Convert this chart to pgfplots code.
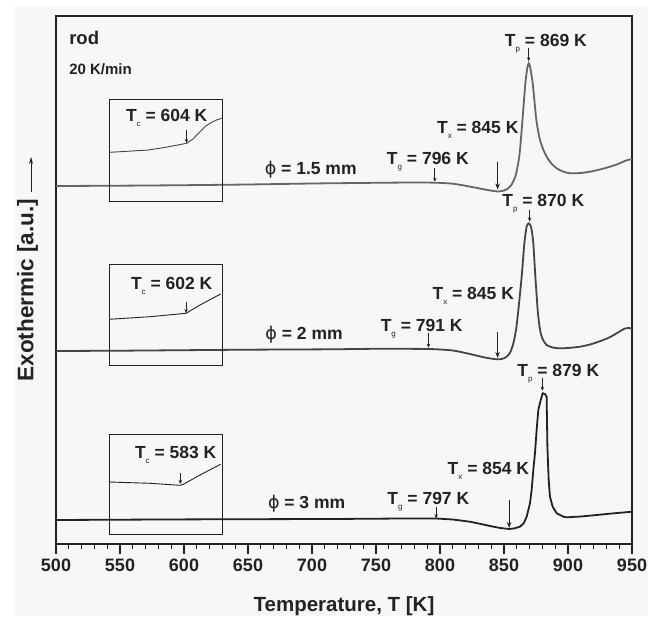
\documentclass[border=0pt]{standalone}
\usepackage{fontspec}
\setmainfont{Liberation Sans}
\newfontfamily\dejavu{DejaVu Sans}
\usepackage{pgfplots}
\pgfplotsset{compat=1.18}
\usetikzlibrary{arrows.meta}
\definecolor{bg}{HTML}{F7F7F7}
\definecolor{txt}{HTML}{222222}
\definecolor{cA}{HTML}{666666}
\definecolor{cB}{HTML}{444444}
\definecolor{cC}{HTML}{222222}
\newcommand{\sub}[1]{\raisebox{-0.55ex}{\fontsize{8}{8}\selectfont\mdseries #1}}
\newcommand{\phisym}{{\dejavu\mdseries ϕ}}
\tikzset{
  lab/.style={font=\fontsize{17.5}{17.5}\selectfont\bfseries, text=txt, anchor=base, inner sep=0pt},
  sarr/.style={draw=txt, line width=0.8pt, -{Stealth[length=4pt,width=3.5pt]}},
  larr/.style={draw=txt, line width=0.9pt, -{Stealth[length=6pt,width=4.5pt]}},
}
\begin{document}
\begin{tikzpicture}
\path[use as bounding box] (-56pt,-72pt) rectangle (602pt,544pt);
\fill[bg] (-41pt,-72pt) rectangle (592pt,538pt);
\begin{axis}[
  at={(0,0)}, anchor=south west,
  scale only axis, width=576pt, height=528pt,
  xmin=500, xmax=950, ymin=0, ymax=528,
  xtick={500,550,...,950}, minor x tick num=4,
  ytick=\empty,
  xtick pos=bottom, tick align=outside,
  major tick length=10pt, minor tick length=5pt,
  every tick/.style={draw=txt, line width=1.1pt},
  axis line style={draw=txt, line width=1.4pt},
  /pgf/number format/assume math mode=true,
  xticklabel style={font=\fontsize{18}{18}\selectfont\bfseries, text=txt, yshift=-1pt},
  xlabel={Temperature, T [K]},
  xlabel style={font=\fontsize{20.5}{20.5}\selectfont\bfseries, text=txt, at={(axis description cs:0.5,-0.128)}, anchor=base},
  ylabel={Exothermic [a.u.]},
  ylabel style={font=\fontsize{22.5}{22.5}\selectfont\bfseries, text=txt, at={(axis description cs:-0.0495,0.481)}, anchor=center},
  clip=true,
]
% curve 1 : phi = 1.5 mm
\addplot[cA, line width=1.8pt, smooth, tension=0.4] coordinates {
(500,358) (550,358.3) (600,358.8) (650,359.5) (700,360.5) (750,361.2) (780,361.5) (796,361.3)
(810,360.3) (823,357.5) (835,354.5) (845,352.5) (850,353.5) (853,355.5) (856,359.5) (859,368)
(861,380) (862.5,394) (864.6,427) (866.7,461) (868.2,476) (869.3,480.7) (870.4,477) (872.4,461)
(875,427) (876.5,414) (878.1,404) (880.5,395) (883.3,387.3) (887,380.5) (891.2,375.7) (896,372.5)
(901.6,370.7) (910,371) (917.2,372.3) (925,374.5) (932.8,377.3) (938,379.5) (943.2,382.3)
(947,384.2) (950,384.5)};
% curve 2 : phi = 2 mm
\addplot[cB, line width=1.8pt, smooth, tension=0.4] coordinates {
(500,193) (550,193.3) (600,193.8) (650,194.3) (714,194.7) (750,195.2) (791,195) (810,193.5)
(823.4,190) (835,186.5) (844.3,184.7) (849,185.3) (852.1,187.3) (855,192) (857.3,200.7)
(859.5,215) (861.2,234) (863.8,267.3) (865.9,300.7) (867.7,317.5) (869.3,320.7) (870.7,318.5)
(871.6,314) (872.9,300.7) (874.5,267.3) (876.3,234) (877.5,220) (878.7,210.7) (880.5,204)
(883.3,199) (888,196.5) (893.7,195.7) (900,196) (909.4,197.3) (918,199.8) (927.6,204) (933,207)
(938,210.7) (942,213.8) (944.5,215.5) (947,216) (950,215.5)};
% curve 3 : phi = 3 mm
\addplot[cC, line width=1.8pt] coordinates {
(500,24) (550,24.3) (600,24.6) (650,24.8) (714,25) (750,25.3) (780,25.6) (797,25.5) (810,24.5)
(823.4,22.3) (832,20) (839.1,18) (847,16) (854.2,15) (858,15.6) (862.5,17.3) (865.5,21)
(867.7,27.3) (870.3,40.7) (871.6,54) (872.9,74) (874.2,90.7) (875.5,114) (876.8,134) (878.7,144)
(880.2,150.7) (882,150) (883.3,147.3) (883.9,97.3) (884.9,64) (885.9,47.3) (888,37.3)
(891.2,30.7) (896.4,27.3) (899,26.7) (910,27.5) (922.4,29) (935,30.6) (950,32.3)};
% inset curves
\addplot[cB, line width=0.9pt] coordinates {
(542.2,391.7) (557,392.8) (572.1,394) (587,397) (602.1,400.7) (607,405) (612.5,412.3) (617,418) (620.3,420.7) (625,423.8) (629.4,425.7)};
\addplot[cC, line width=0.9pt] coordinates {
(541.6,224.7) (573.4,227.3) (601.6,230.7) (612.5,239) (628.6,250)};
\addplot[cC, line width=0.9pt] coordinates {
(541.6,62) (573.4,60.7) (596.9,58.7) (599.5,59.7) (612.5,69) (628.6,79.7)};
% inset frames
\draw[txt, line width=1pt] (axis cs:541.6,342.3) rectangle (axis cs:629.7,444);
\draw[txt, line width=1pt] (axis cs:541.6,179) rectangle (axis cs:629.7,279.7);
\draw[txt, line width=1pt] (axis cs:541.6,9.7) rectangle (axis cs:629.7,110);
% texts
\node[lab, anchor=base west, font=\fontsize{18.5}{18.5}\selectfont\bfseries] at (axis cs:510.2,499) {rod};
\node[lab, anchor=base west, font=\fontsize{15}{15}\selectfont\bfseries] at (axis cs:510.2,469) {20 K/min};
\node[lab] at (axis cs:586.5,422.5) {T\sub{c} = 604 K};
\node[lab] at (axis cs:590.4,254.2) {T\sub{c} = 602 K};
\node[lab] at (axis cs:593.5,85.8) {T\sub{c} = 583 K};
\node[lab] at (axis cs:699,369.5) {\phisym{} = 1.5 mm};
\node[lab] at (axis cs:693.8,204.2) {\phisym{} = 2 mm};
\node[lab] at (axis cs:695.8,35.8) {\phisym{} = 3 mm};
\node[lab] at (axis cs:790.5,379.2) {T\sub{g} = 796 K};
\node[lab] at (axis cs:785.7,212.5) {T\sub{g} = 791 K};
\node[lab] at (axis cs:790.9,39.2) {T\sub{g} = 797 K};
\node[lab] at (axis cs:829.5,410.8) {T\sub{x} = 845 K};
\node[lab] at (axis cs:826,244.2) {T\sub{x} = 845 K};
\node[lab] at (axis cs:837.8,69.2) {T\sub{x} = 854 K};
\node[lab] at (axis cs:882.7,497.5) {T\sub{p} = 869 K};
\node[lab] at (axis cs:880.7,337.5) {T\sub{p} = 870 K};
\node[lab] at (axis cs:892.4,167.5) {T\sub{p} = 879 K};
% arrows
\draw[sarr] (axis cs:602,414) -- (axis cs:602,401);
\draw[sarr] (axis cs:601.6,242.3) -- (axis cs:601.6,231);
\draw[sarr] (axis cs:597.1,70.7) -- (axis cs:597.1,60);
\draw[sarr] (axis cs:796,375.7) -- (axis cs:796,362.3);
\draw[sarr] (axis cs:791,210.7) -- (axis cs:791,196.3);
\draw[sarr] (axis cs:797,37.3) -- (axis cs:797,25.7);
\draw[larr] (axis cs:845,382.3) -- (axis cs:845,354.5);
\draw[larr] (axis cs:845,212.3) -- (axis cs:845,186);
\draw[larr] (axis cs:854,44) -- (axis cs:854,16);
\draw[sarr] (axis cs:869.3,495.7) -- (axis cs:869.3,482.8);
\draw[sarr] (axis cs:870,334) -- (axis cs:870,322.5);
\draw[sarr] (axis cs:880,165.7) -- (axis cs:880,153.3);
\end{axis}
% vertical arrow of the y label
\draw[txt, line width=0.8pt, -{Stealth[length=7pt,width=4pt]}] (-25pt,352.3pt) -- (-25pt,387pt);
\end{tikzpicture}
\end{document}
